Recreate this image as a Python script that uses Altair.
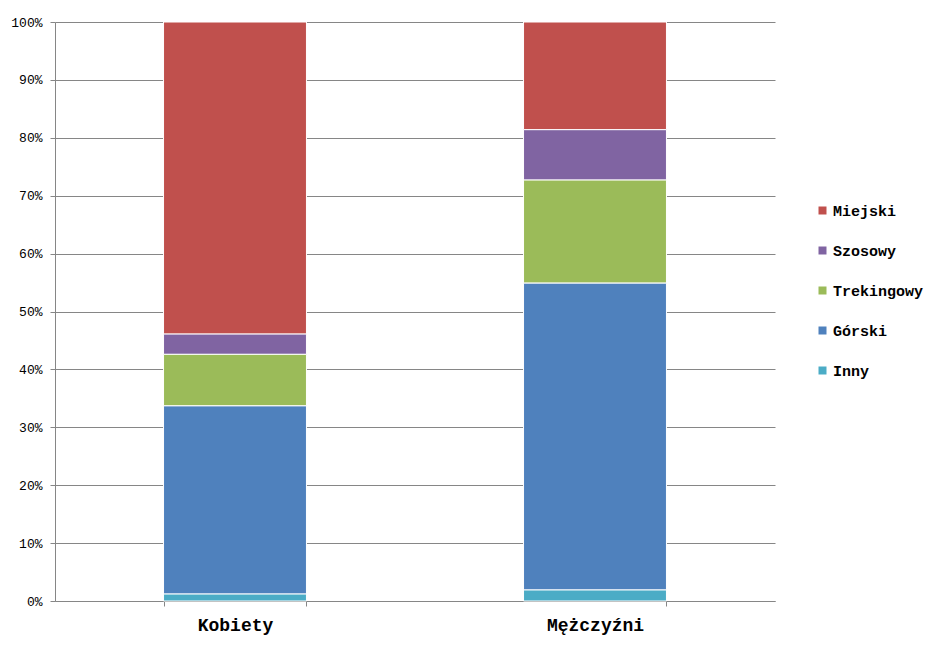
import altair as alt
import pandas as pd

groups = ["Kobiety", "Mężczyźni"]
types = ["Miejski", "Szosowy", "Trekingowy", "Górski", "Inny"]
colors = ["#C0504D", "#8064A2", "#9BBB59", "#4F81BD", "#4BACC6"]
stack_rank = [5, 4, 3, 2, 1]
kobiety = [53.9, 3.5, 8.9, 32.5, 1.2]
mezczyzni = [18.6, 8.7, 17.8, 53.0, 1.9]

rows = []
for g, vals in zip(groups, [kobiety, mezczyzni]):
    for t, v, r in zip(types, vals, stack_rank):
        rows.append({"grupa": g, "typ": t, "wartosc": v, "kolejnosc": r})
df = pd.DataFrame(rows)

FONT = "Liberation Mono"

chart = alt.Chart(df).mark_bar(stroke="white", strokeWidth=1).encode(
    x=alt.X("grupa:N", sort=groups, title=None,
            scale=alt.Scale(paddingInner=0.603, paddingOuter=0.3015),
            axis=alt.Axis(labelAngle=0, labelFont=FONT, labelFontSize=18,
                          labelFontWeight="bold", labelColor="black",
                          tickBand="extent", tickSize=5, tickColor="#868686",
                          domainColor="#868686", labelPadding=10, grid=False)),
    y=alt.Y("wartosc:Q", stack="normalize", title=None,
            scale=alt.Scale(domain=[0, 1]),
            axis=alt.Axis(format=".0%", values=[i / 10 for i in range(11)],
                          labelFont=FONT, labelFontSize=13, labelColor="black",
                          tickSize=5, tickColor="#868686", domainColor="#868686",
                          gridColor="#868686", labelPadding=8)),
    color=alt.Color("typ:N", title=None,
                    scale=alt.Scale(domain=types, range=colors),
                    legend=alt.Legend(orient="none", legendX=760, legendY=181,
                                      symbolType="square", symbolSize=64,
                                      symbolStrokeWidth=0, labelFont=FONT,
                                      labelFontSize=15, labelFontWeight="bold",
                                      labelColor="black", rowPadding=24,
                                      labelOffset=3)),
    order=alt.Order("kolejnosc:Q", sort="ascending"),
).properties(
    width=720, height=579,
    background="white",
    autosize=alt.AutoSizeParams(type="none"),
    padding={"left": 55, "top": 22, "right": 168, "bottom": 50},
).configure_view(strokeWidth=0, stroke="transparent")

chart.save("out.html", embed_options={"renderer": "svg", "actions": False})
